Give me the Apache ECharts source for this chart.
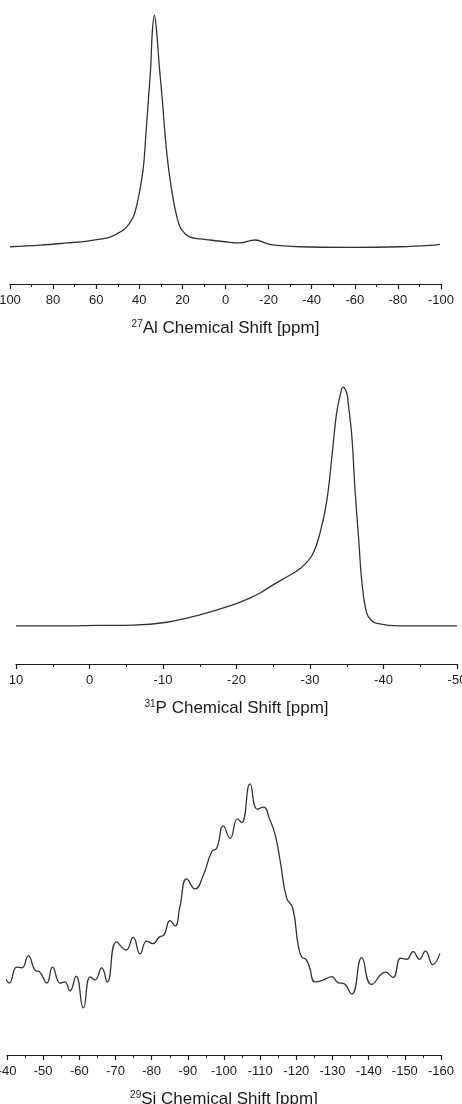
<!DOCTYPE html>
<html>
<head>
<meta charset="utf-8">
<title>NMR spectra</title>
<script src="https://cdn.jsdelivr.net/npm/echarts@6/dist/echarts.min.js"></script>
<style>
  html, body { margin: 0; padding: 0; background: #fff; }
  #main { width: 462px; height: 1104px; }
</style>
</head>
<body>
<div id="main"></div>
<script>
// 27Al spectrum (shift in ppm, relative intensity)
const alShift = [100, 86, 73.5, 64, 58.2, 53.6, 50.6, 47.4, 45.0, 42.8, 41.4, 40.0, 38.1, 36.9, 35.8, 34.7, 34.0, 33.0,
  31.9, 30.7, 29.3, 28.1, 26.5, 24.2, 22.6, 21.1, 19.0, 16.5, 11.8, 7.2, -2.1, -6.7, -13.7, -20.6, -34.6, -57.8, -81, -94.9, -99.5];
const alIntensity = [13.8, 14.4, 15.2, 15.9, 16.6, 17.4, 18.5, 20.0, 22.0, 24.8, 28.5, 33.7, 43.3, 55.9, 68.1, 80.4, 93.0, 99.6,
  93.0, 80.4, 68.1, 55.9, 43.3, 31.1, 25.0, 21.1, 18.8, 17.4, 16.7, 16.3, 15.4, 15.2, 16.3, 14.7, 13.8, 13.6, 13.8, 14.3, 14.7];

// 31P spectrum
const pShift = [10, 4, -1.4, -5.9, -10.5, -15.0, -19.5, -21.8, -23.2, -25.2, -27.0, -28.6, -30.3, -31.4, -32.3, -33.0,
  -33.6, -34.1, -34.5, -35.0, -35.2, -35.7, -36.1, -36.6, -37.1, -37.7, -38.3, -39.1, -42.2, -50];
const pIntensity = [13.4, 13.4, 13.6, 13.7, 14.7, 17.3, 20.8, 23.2, 25.0, 28.2, 30.9, 33.5, 38.4, 46.5, 57.7, 73.6,
  88.0, 94.7, 97.5, 95.4, 91.9, 79.9, 62.3, 44.7, 27.8, 18.0, 15.5, 14.3, 13.4, 13.4];

// 29Si spectrum
const siShift = [-39.7, -40.6, -42.7, -44.1, -45.9, -47.7, -49.1, -51.0, -52.6, -54.7, -56.0, -57.4, -59.1, -61.1,
  -63.0, -64.3, -66.2, -67.7, -70.3, -72.9, -74.9, -76.8, -78.6, -80.3, -82.1, -83.4, -85.1, -86.5, -87.8,
  -89.7, -92.0, -94.3, -96.6, -98.0, -99.8, -101.7, -103.7, -104.9, -107.2, -109.2, -110.9, -112.7, -114.1,
  -115.5, -117.3, -119.0, -120.5, -121.5, -122.7, -123.6, -125.2, -127.5, -129.8, -131.6, -133.0, -135.3,
  -138.1, -140.8, -144.7, -146.7, -148.9, -150.5, -152.3, -154.0, -155.7, -157.7, -159.7];
const siIntensity = [27.1, 25.7, 31.4, 31.1, 35.4, 30.4, 29.6, 25.7, 31.4, 25.7, 26.1, 22.9, 28.2, 16.8,
  27.9, 26.8, 31.1, 26.1, 40.4, 37.5, 42.0, 36.1, 40.7, 39.8, 42.1, 42.9, 48.0, 46.1, 52.9,
  62.9, 59.3, 64.3, 72.6, 73.9, 81.8, 77.4, 84.3, 83.0, 96.8, 87.8, 88.5, 83.9, 78.9,
  69.6, 56.1, 52.5, 39.3, 35.0, 34.1, 31.5, 26.1, 26.8, 28.0, 25.8, 25.6, 21.8,
  34.8, 25.2, 29.6, 27.7, 34.6, 34.2, 36.9, 34.2, 37.1, 32.3, 36.3];

const zip = (xs, ys) => xs.map((x, i) => [x, ys[i]]);

const font = "'Liberation Sans', Arial, sans-serif";
const ink = '#1a1a1a';

const makeX = (idx, min, max, interval, minorSplit, nucleus, element) => ({
  gridIndex: idx,
  type: 'value',
  inverse: true,
  min: min,
  max: max,
  interval: interval,
  axisLine: { show: true, onZero: false, lineStyle: { color: ink, width: 1.2 } },
  axisTick: { show: true, length: 5, lineStyle: { color: ink, width: 1.2 } },
  minorTick: { show: true, splitNumber: minorSplit, length: 3, lineStyle: { color: ink, width: 1 } },
  splitLine: { show: false },
  axisLabel: { color: ink, fontFamily: font, fontSize: 13, margin: 10 },
  name: '{sup|' + nucleus + '}{t|' + element + ' Chemical Shift [ppm]}',
  nameLocation: 'middle',
  nameGap: 35,
  nameTextStyle: {
    rich: {
      sup: { fontSize: 10, fontFamily: font, color: ink, verticalAlign: 'top', padding: [0, 0, 9, 0] },
      t: { fontSize: 17, fontFamily: font, color: ink }
    }
  }
});

const makeY = (idx) => ({
  gridIndex: idx, type: 'value', min: 0, max: 100, show: false
});

const lineSeries = (idx, data, smooth) => ({
  type: 'line',
  xAxisIndex: idx,
  yAxisIndex: idx,
  data: data,
  smooth: smooth,
  showSymbol: false,
  lineStyle: { color: '#333', width: 1.3 }
});

const chart = echarts.init(document.getElementById('main'));
const option = {
  animation: false,
  backgroundColor: '#fff',
  grid: [
    { left: 10, right: 21, top: 14, height: 270, outerBoundsMode: 'none' },
    { left: 16, right: 5, top: 380, height: 284, outerBoundsMode: 'none' },
    { left: 7, right: 21, top: 775, height: 280, outerBoundsMode: 'none' }
  ],
  xAxis: [
    makeX(0, -100, 100, 20, 2, '27', 'Al'),
    makeX(1, -50, 10, 10, 2, '31', 'P'),
    makeX(2, -160, -40, 10, 2, '29', 'Si')
  ],
  yAxis: [makeY(0), makeY(1), makeY(2)],
  series: [
    lineSeries(0, zip(alShift, alIntensity), 0.4),
    lineSeries(1, zip(pShift, pIntensity), 0.4),
    lineSeries(2, zip(siShift, siIntensity), 0.5)
  ]
};
chart.setOption(option);
</script>
</body>
</html>
